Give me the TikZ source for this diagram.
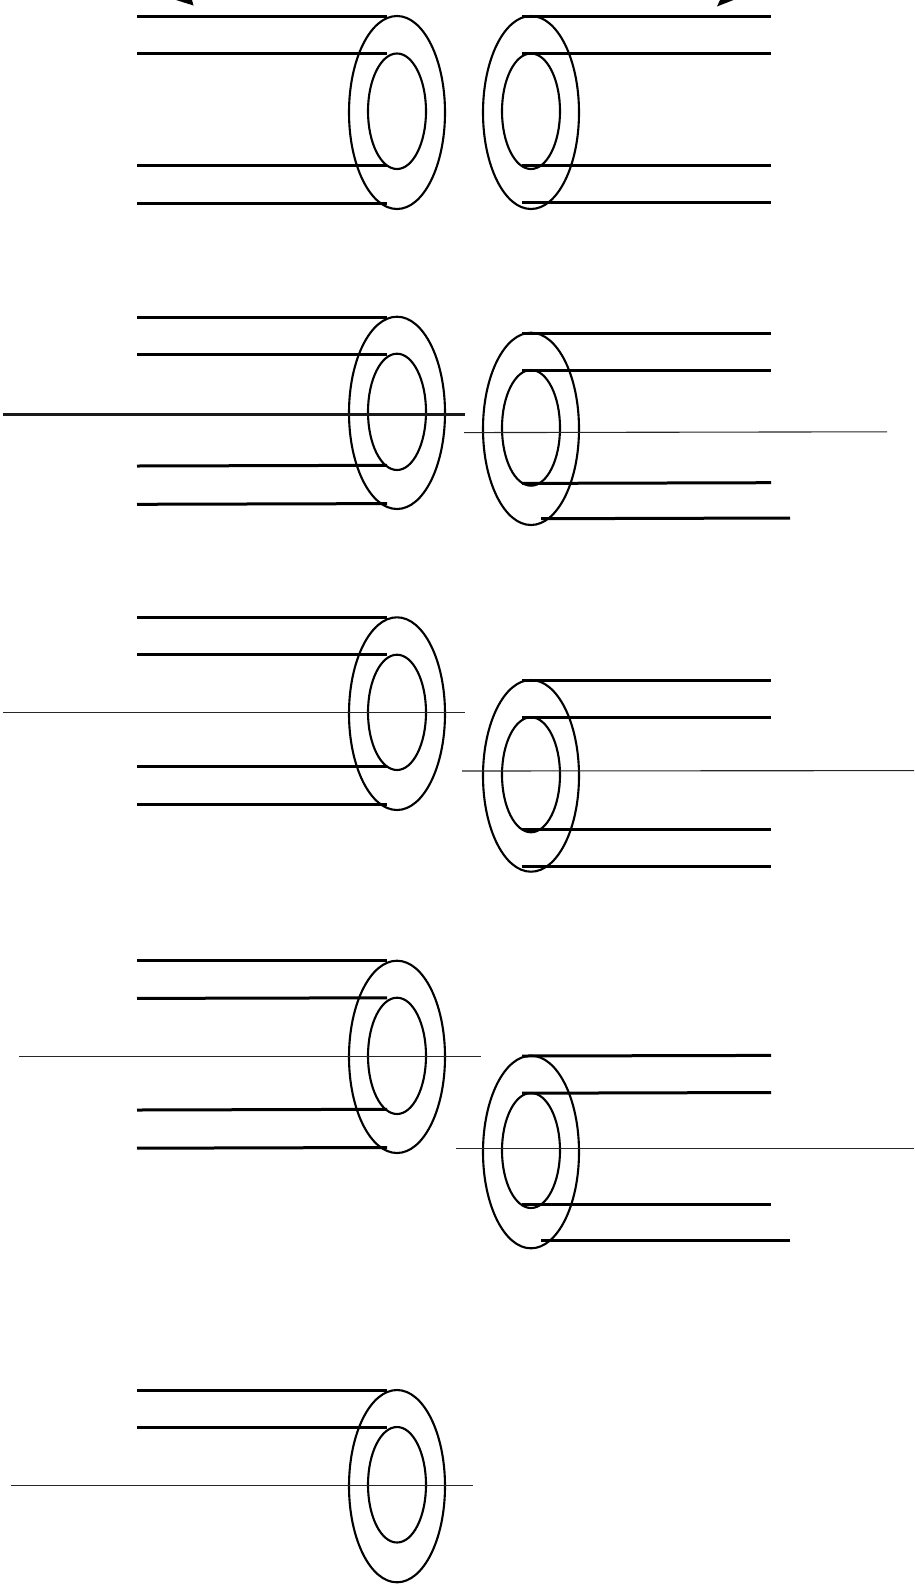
\documentclass[tikz,border=0pt]{standalone}
\tikzset{
  ring/.style={draw=black,line width=2.1pt,fill=none},
  wall/.style={draw=black,line width=3pt},
  axis/.style={draw=black!85,line width=1.1pt},
  heavyaxis/.style={draw=black!90,line width=3pt},
  tipmark/.style={fill=black,draw=none}
}
\newcommand{\tube}[5]{% cx, outer top, outer bottom, inner top, inner bottom
  \draw[ring] (#1,{(#2+#3)/2}) ellipse [x radius=48,y radius={(#3-#2)/2}];
  \draw[ring] (#1,{(#4+#5)/2}) ellipse [x radius=29,y radius={(#5-#4)/2}];
}
\begin{document}
\begin{tikzpicture}[x=1pt,y=-1pt]
\useasboundingbox (0,0) rectangle (914,1585);
% top arrow tips
\fill[tipmark] (176,0) -- (193.5,5.5) -- (192,0) -- cycle;
\fill[tipmark] (717,6.5) -- (733.5,0) -- (720,0) -- cycle;
% row 1
\tube{397}{16}{209}{53.5}{169}
\draw[wall] (137,16.5) -- (387,16.5);
\draw[wall] (137,53.5) -- (387,53.5);
\draw[wall] (137,165) -- (387,165);
\draw[wall] (137,203.5) -- (387,203.5);
\tube{531}{16}{209}{53.5}{169}
\draw[wall] (522,16.5) -- (771,16.5);
\draw[wall] (522,53.5) -- (771,53.5);
\draw[wall] (522,165) -- (771,165);
\draw[wall] (522,202.5) -- (771,202.5);
% row 2
\tube{397}{316.7}{509}{353.7}{470}
\draw[wall] (137,317) -- (387,317);
\draw[wall] (137,354) -- (387,354);
\draw[wall] (137,466) -- (387,465.3);
\draw[wall] (137,504.3) -- (387,503.6);
\draw[heavyaxis] (3,414) -- (465,414);
\tube{531}{332.7}{525}{370}{485.7}
\draw[wall] (522,333) -- (771,333);
\draw[wall] (522,370) -- (771,370);
\draw[wall] (522,483.4) -- (771,482.7);
\draw[wall] (541,518.7) -- (790,518);
\draw[axis] (464,432.6) -- (887,431.8);
% row 3
\tube{397}{617.3}{810}{654.7}{770}
\draw[wall] (137,617.5) -- (387,617.5);
\draw[wall] (137,654.7) -- (387,654.7);
\draw[wall] (137,766) -- (387,766);
\draw[wall] (137,804.7) -- (387,804.7);
\draw[axis] (3,712.4) -- (465,712.4);
\tube{531}{680}{871.7}{717.3}{832.3}
\draw[wall] (522,680) -- (771,680);
\draw[wall] (522,717) -- (771,717);
\draw[wall] (522,829.7) -- (771,829.7);
\draw[wall] (522,866.8) -- (771,866.8);
\draw[axis] (462,771) -- (914,770.6);
% row 4
\tube{397}{960.7}{1153}{997.7}{1114}
\draw[wall] (137,960.7) -- (387,960.7);
\draw[wall] (137,998.4) -- (387,997.8);
\draw[wall] (137,1110) -- (387,1109.3);
\draw[wall] (137,1148.2) -- (387,1147.5);
\draw[axis] (19,1056.3) -- (480.5,1056.3);
\tube{531}{1055.7}{1248.3}{1093}{1208}
\draw[wall] (522,1056) -- (771,1055.4);
\draw[wall] (522,1093.2) -- (771,1092.5);
\draw[wall] (522,1204.7) -- (771,1204.7);
\draw[wall] (541,1240) -- (790,1240);
\draw[axis] (456,1148.5) -- (914,1148.5);
% row 5
\tube{397}{1390}{1582.3}{1427}{1542.5}
\draw[wall] (137,1390) -- (387,1390);
\draw[wall] (137,1427.3) -- (387,1427.3);
\draw[axis] (11,1485.3) -- (473,1485.3);
\end{tikzpicture}
\end{document}
